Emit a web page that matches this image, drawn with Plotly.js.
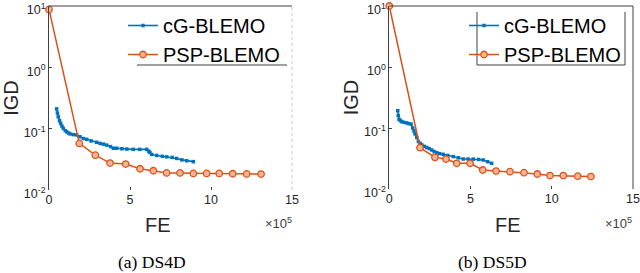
<!DOCTYPE html>
<html><head><meta charset="utf-8">
<script src="https://cdn.plot.ly/plotly-3.0.1.min.js"></script>
<style>html,body{margin:0;padding:0;background:#fff;}#chart{width:640px;height:273px;}</style>
</head><body><div id="chart"></div>
<script>
// FE values in units of 1e5
const ds4d_cg_x = [0.47,0.52,0.57,0.65,0.72,0.8,0.88,1.0,1.09,1.2,1.3,1.5,1.71,1.91,2.12,2.33,2.6,2.94,3.15,3.35,3.56,3.8,3.97,4.18,4.5,4.8,5.2,5.6,6.03,6.15,6.23,6.34,6.65,7.0,7.27,7.6,7.88,8.2,8.5,8.91];
const ds4d_cg_y = [0.21,0.18,0.156,0.135,0.122,0.11,0.101,0.093,0.089,0.085,0.082,0.08,0.079,0.074,0.069,0.067,0.063,0.060,0.0575,0.056,0.054,0.051,0.048,0.048,0.047,0.0465,0.046,0.046,0.046,0.043,0.041,0.038,0.0366,0.0355,0.0347,0.034,0.0327,0.031,0.030,0.029];
const ds4d_psp_x = [0,1.87,2.86,3.77,4.73,5.62,6.44,7.26,8.09,8.91,9.73,10.51,11.34,12.2,13.09];
const ds4d_psp_y = [8.8,0.0575,0.037,0.0275,0.0265,0.0222,0.0206,0.019,0.019,0.0186,0.0186,0.0186,0.0184,0.0183,0.0182];

const ds5d_cg_x = [0.52,0.55,0.6,0.68,0.76,0.9,1.07,1.2,1.34,1.44,1.52,1.58,1.69,1.79,1.9,2.0,2.15,2.3,2.45,2.61,2.76,2.92,3.1,3.32,3.6,3.94,4.25,4.55,4.85,5.17,5.5,5.78,6.05,6.3];
const ds5d_cg_y = [0.192,0.16,0.139,0.132,0.127,0.124,0.121,0.118,0.116,0.1,0.09,0.08,0.07,0.06,0.056,0.0527,0.05,0.048,0.046,0.0436,0.041,0.0394,0.038,0.037,0.0355,0.034,0.0325,0.031,0.031,0.0309,0.0305,0.0299,0.028,0.0264];
const ds5d_psp_x = [0,1.89,2.81,3.49,4.15,4.97,5.75,6.57,7.43,8.29,9.11,9.89,10.71,11.6,12.41];
const ds5d_psp_y = [10,0.0475,0.033,0.031,0.0264,0.0264,0.0205,0.0197,0.0192,0.0185,0.0176,0.0166,0.0166,0.0162,0.016];

const seriesNames = ['cG-BLEMO','PSP-BLEMO'];
const xTickVals = [0,5,10,15];
const xTickText = ['0','5','10','15'];
const yTickVals = [0.01,0.1,1,10];
const yTickText = ['10<sup>-2</sup>','10<sup>-1</sup>','10<sup>0</sup>','10<sup>1</sup>'];
const subTitles = ['(a) DS4D','(b) DS5D'];
const xTitle = 'FE', yTitle = 'IGD';

const BLUE = '#0072BD', RED = '#D95319';
function cgTrace(x,y,xa,ya,lg){
  return {x:x,y:y,xaxis:xa,yaxis:ya,legend:lg,name:seriesNames[0],type:'scatter',mode:'lines+markers',cliponaxis:false,
    line:{color:BLUE,width:1.6},marker:{symbol:'square',size:3.5,color:BLUE}};
}
function pspTrace(x,y,xa,ya,lg){
  return {x:x,y:y,xaxis:xa,yaxis:ya,legend:lg,name:seriesNames[1],type:'scatter',mode:'lines+markers',cliponaxis:false,
    line:{color:RED,width:1.5},marker:{symbol:'circle',size:6.5,color:'rgba(244,180,150,1)',line:{color:RED,width:1.3}}};
}
const data = [
  cgTrace(ds4d_cg_x,ds4d_cg_y,'x','y','legend'),
  pspTrace(ds4d_psp_x,ds4d_psp_y,'x','y','legend'),
  cgTrace(ds5d_cg_x,ds5d_cg_y,'x2','y2','legend2'),
  pspTrace(ds5d_psp_x,ds5d_psp_y,'x2','y2','legend2')
];
const W=640,H=273;
const tickFont = {family:'Liberation Sans, Arial, sans-serif',size:12.5,color:'#262626'};
const titleFont = {family:'Liberation Sans, Arial, sans-serif',size:20,color:'#262626'};
function xax(d,anchor){
  return {domain:d,anchor:anchor,range:[0,15],tickmode:'array',tickvals:xTickVals,ticktext:xTickText,
    showgrid:false,zeroline:false,showline:false,ticks:'inside',ticklen:3,tickcolor:'#404040',
    ticklabeloverflow:'allow',tickfont:tickFont};
}
function yax(d,anchor){
  return {domain:d,anchor:anchor,type:'log',range:[-2,1],tickmode:'array',tickvals:yTickVals,ticktext:yTickText,
    showgrid:false,zeroline:false,showline:true,linecolor:'#404040',linewidth:1,ticks:'inside',ticklen:3,tickcolor:'#404040',
    ticklabeloverflow:'allow',ticklabelshift:4,tickfont:tickFont,title:{text:yTitle,font:titleFont,standoff:0}};
}
const lx1=[49/W,292/W], lx2=[389.3/W,633/W];
const ly1=[(H-190)/H,(H-6)/H], ly2=[(H-189)/H,(H-6)/H];
function px(x){return x/W;} function py(y){return (H-y)/H;}
const lineCol='#404040';
const shapes = [
  {type:'line',xref:'x domain',yref:'y domain',x0:0,x1:1,y0:1,y1:1,line:{color:lineCol,width:1}},
  {type:'line',xref:'x domain',yref:'y domain',x0:1,x1:1,y0:0,y1:1,line:{color:'#c8c8c8',width:1,dash:'dot'}},
  {type:'line',xref:'x2 domain',yref:'y2 domain',x0:0,x1:1,y0:1,y1:1,line:{color:lineCol,width:1}},
  {type:'line',xref:'x2 domain',yref:'y2 domain',x0:1,x1:1,y0:0,y1:1,line:{color:lineCol,width:1}},
  // legend box edges
  {type:'line',xref:'paper',yref:'paper',x0:px(137),x1:px(287),y0:py(65),y1:py(65),line:{color:lineCol,width:1}},
  {type:'line',xref:'paper',yref:'paper',x0:px(477),x1:px(625),y0:py(65),y1:py(65),line:{color:lineCol,width:1}},
  {type:'line',xref:'paper',yref:'paper',x0:px(477),x1:px(477),y0:py(12),y1:py(65),line:{color:lineCol,width:1}},
  {type:'line',xref:'paper',yref:'paper',x0:px(625),x1:px(625),y0:py(12),y1:py(65),line:{color:lineCol,width:1}}
];
const legFont = {family:'Liberation Sans, Arial, sans-serif',size:20,color:'#000'};
const serif = {family:'Liberation Serif, serif',size:17.5,color:'#000'};
const layout = {
  width:W,height:H,margin:{l:0,r:0,t:0,b:0},paper_bgcolor:'#fff',plot_bgcolor:'rgba(0,0,0,0)',
  showlegend:true,
  xaxis:xax(lx1,'y'),yaxis:yax(ly1,'x'),
  xaxis2:xax(lx2,'y2'),yaxis2:yax(ly2,'x2'),
  legend:{x:px(123),xanchor:'left',y:py(40),yanchor:'middle',font:legFont,bgcolor:'rgba(0,0,0,0)',borderwidth:0,tracegroupgap:0},
  legend2:{x:px(464),xanchor:'left',y:py(40),yanchor:'middle',font:legFont,bgcolor:'rgba(0,0,0,0)',borderwidth:0,tracegroupgap:0},
  shapes:shapes,
  annotations:[
    {xref:'paper',yref:'paper',x:px(158),y:py(225),xanchor:'center',yanchor:'middle',showarrow:false,text:xTitle,font:titleFont},
    {xref:'paper',yref:'paper',x:px(508),y:py(225),xanchor:'center',yanchor:'middle',showarrow:false,text:xTitle,font:titleFont},
    {xref:'paper',yref:'paper',x:px(294),y:py(223),xanchor:'right',yanchor:'middle',showarrow:false,text:'×10<sup>5</sup>',font:{family:'Liberation Sans, Arial, sans-serif',size:13,color:'#404040'}},
    {xref:'paper',yref:'paper',x:px(634),y:py(223),xanchor:'right',yanchor:'middle',showarrow:false,text:'×10<sup>5</sup>',font:{family:'Liberation Sans, Arial, sans-serif',size:13,color:'#404040'}},
    {xref:'paper',yref:'paper',x:px(152),y:py(262),xanchor:'center',yanchor:'middle',showarrow:false,text:subTitles[0],font:serif},
    {xref:'paper',yref:'paper',x:px(492),y:py(262),xanchor:'center',yanchor:'middle',showarrow:false,text:subTitles[1],font:serif}
  ]
};
Plotly.newPlot('chart',data,layout,{staticPlot:true,displayModeBar:false});
</script></body></html>
